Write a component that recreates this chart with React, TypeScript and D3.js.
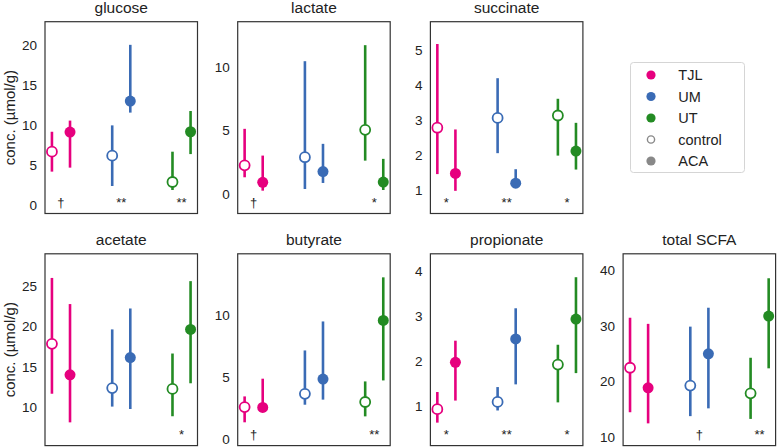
import React from "react";
import * as d3 from "d3";

const GROUPS = ["TJL", "UM", "UT"];
const COLORS = ["#e6007e", "#3a6bb5", "#238b23"];
const PANEL_NAMES = ["glucose", "lactate", "succinate", "acetate", "butyrate", "propionate", "total SCFA"];

// each entry: [mean, low, high] for TJL, UM, UT
const glucoseControl = [[6.7, 4.2, 9.2], [6.2, 2.4, 10.0], [2.9, 1.9, 6.7]];
const glucoseACA = [[9.16, 4.7, 10.6], [13.05, 11.6, 20.1], [9.2, 6.4, 11.8]];
const glucoseSig = ["†", "**", "**"];

const lactateControl = [[2.28, 1.33, 5.17], [2.92, 0.4, 10.53], [5.09, 2.65, 11.8]];
const lactateACA = [[0.93, 0.27, 3.05], [1.78, 0.88, 3.98], [0.95, 0.32, 2.79]];
const lactateSig = ["†", "", "*"];

const succinateControl = [[2.79, 1.46, 5.19], [3.07, 2.06, 4.21], [3.14, 1.99, 3.62]];
const succinateACA = [[1.48, 0.98, 2.74], [1.2, 1.1, 1.6], [2.12, 1.59, 2.93]];
const succinateSig = ["*", "**", "*"];

const acetateControl = [[17.9, 11.7, 26.1], [12.4, 10.1, 19.7], [12.3, 8.9, 16.7]];
const acetateACA = [[14.05, 8.14, 22.85], [16.2, 9.8, 22.3], [19.7, 13.0, 25.7]];
const acetateSig = ["", "", "*"];

const butyrateControl = [[2.63, 1.4, 3.49], [3.7, 2.82, 7.2], [3.04, 1.88, 4.7]];
const butyrateACA = [[2.6, 2.3, 4.92], [4.89, 3.23, 9.54], [9.62, 4.78, 13.1]];
const butyrateSig = ["†", "", "**"];

const propionateControl = [[0.94, 0.64, 1.32], [1.1, 0.91, 1.43], [1.93, 1.09, 2.37]];
const propionateACA = [[1.98, 1.13, 2.46], [2.5, 1.49, 3.18], [2.94, 1.74, 3.87]];
const propionateSig = ["*", "**", "*"];

const totalControl = [[22.5, 14.5, 31.5], [19.3, 13.8, 29.9], [17.9, 13.3, 24.3]];
const totalACA = [[18.9, 12.5, 30.4], [25.0, 15.2, 33.3], [31.8, 22.4, 38.6]];
const totalSig = ["", "†", "**"];

const Y_DOMAINS = [[-1.05, 23.0], [-1.54, 13.66], [0.33, 5.83], [5.25, 29.1], [-0.48, 15.0], [0.13, 4.39], [8.5, 43]];
const Y_TICKS = [[0, 5, 10, 15, 20], [0, 5, 10], [1, 2, 3, 4, 5], [10, 15, 20, 25], [0, 5, 10], [1, 2, 3, 4], [10, 20, 30, 40]];

const CONTROLS = [glucoseControl, lactateControl, succinateControl, acetateControl, butyrateControl, propionateControl, totalControl];
const ACAS = [glucoseACA, lactateACA, succinateACA, acetateACA, butyrateACA, propionateACA, totalACA];
const SIGS = [glucoseSig, lactateSig, succinateSig, acetateSig, butyrateSig, propionateSig, totalSig];

const LEGEND_LABELS = ["TJL", "UM", "UT", "control", "ACA"];

const W = 777, H = 447;
const PW = 152.5, PH = 191.8;
const LEFT0 = 45, STEP_X = 192.7;
const TOPS = [21.7, 253.8];
const FONT = "'Liberation Sans', Arial, Helvetica, sans-serif";
const OFFSET = 0.15;

function Panel({ idx }: { idx: number }) {
  const col = idx < 3 ? idx : idx - 3;
  const row = idx < 3 ? 0 : 1;
  const x0 = LEFT0 + col * STEP_X;
  const y0 = TOPS[row];
  const x = d3.scaleLinear().domain([-0.265, 2.265]).range([0, PW]);
  const y = d3.scaleLinear().domain(Y_DOMAINS[idx]).range([PH, 0]);
  const dom = Y_DOMAINS[idx];
  const sigY = y(dom[0] + 0.032 * (dom[1] - dom[0]));
  const series = [
    { data: CONTROLS[idx], off: -OFFSET, open: true },
    { data: ACAS[idx], off: OFFSET, open: false },
  ];
  return (
    <g transform={`translate(${x0},${y0})`}>
      <rect x={0} y={0} width={PW} height={PH} fill="white" />
      <text x={PW / 2} y={-8.5} textAnchor="middle" fontSize={15.5} fill="#222" fontFamily={FONT}>
        {PANEL_NAMES[idx]}
      </text>
      {Y_TICKS[idx].map((t) => (
        <text key={t} x={-8} y={y(t)} textAnchor="end" dominantBaseline="central" fontSize={13.5} fill="#222" fontFamily={FONT}>
          {t}
        </text>
      ))}
      {col === 0 && (
        <text
          transform={`translate(${9 - x0},${PH / 2}) rotate(-90)`}
          textAnchor="middle"
          dominantBaseline="central"
          fontSize={15}
          fill="#222"
          fontFamily={FONT}
        >
          conc. (µmol/g)
        </text>
      )}
      {series.map((s, si) =>
        s.data.map((d, gi) => {
          const cx = x(gi + s.off);
          return (
            <g key={`${si}-${gi}`}>
              <line x1={cx} x2={cx} y1={y(d[1])} y2={y(d[2])} stroke={COLORS[gi]} strokeWidth={2.6} />
              <circle
                cx={cx}
                cy={y(d[0])}
                r={s.open ? 5 : 5.5}
                fill={s.open ? "white" : COLORS[gi]}
                stroke={COLORS[gi]}
                strokeWidth={s.open ? 1.8 : 0}
              />
            </g>
          );
        })
      )}
      {SIGS[idx].map((t, gi) =>
        t ? (
          <text key={gi} x={x(gi)} y={sigY} textAnchor="middle" fontSize={13} fill="#222" fontFamily={FONT}>
            {t}
          </text>
        ) : null
      )}
      <rect x={0} y={0} width={PW} height={PH} fill="none" stroke="#333" strokeWidth={1.2} />
    </g>
  );
}

function Legend() {
  const lx = 630.5, ly = 62.5, lw = 114, lh = 110;
  const rowY = d3.scaleLinear().domain([0, 4]).range([ly + 12.5, ly + 98.5]);
  const markerColors = [...COLORS, "#888", "#888"];
  return (
    <g>
      <rect x={lx} y={ly} width={lw} height={lh} rx={3} fill="white" stroke="#d5d5d5" strokeWidth={1} />
      {LEGEND_LABELS.map((lab, i) => (
        <g key={lab}>
          {i === 3 ? (
            <circle cx={lx + 20.5} cy={rowY(i)} r={3.6} fill="white" stroke="#888" strokeWidth={1.4} />
          ) : (
            <circle cx={lx + 20.5} cy={rowY(i)} r={4.6} fill={markerColors[i]} />
          )}
          <text x={lx + 47.8} y={rowY(i)} dominantBaseline="central" fontSize={14.5} fill="#222" fontFamily={FONT}>
            {lab}
          </text>
        </g>
      ))}
    </g>
  );
}

export default function App() {
  return (
    <svg width={W} height={H} style={{ position: "absolute", left: 0, top: 0, background: "white" }}>
      <rect x={0} y={0} width={W} height={H} fill="white" />
      {PANEL_NAMES.map((_, i) => (
        <Panel key={i} idx={i} />
      ))}
      <Legend />
    </svg>
  );
}
